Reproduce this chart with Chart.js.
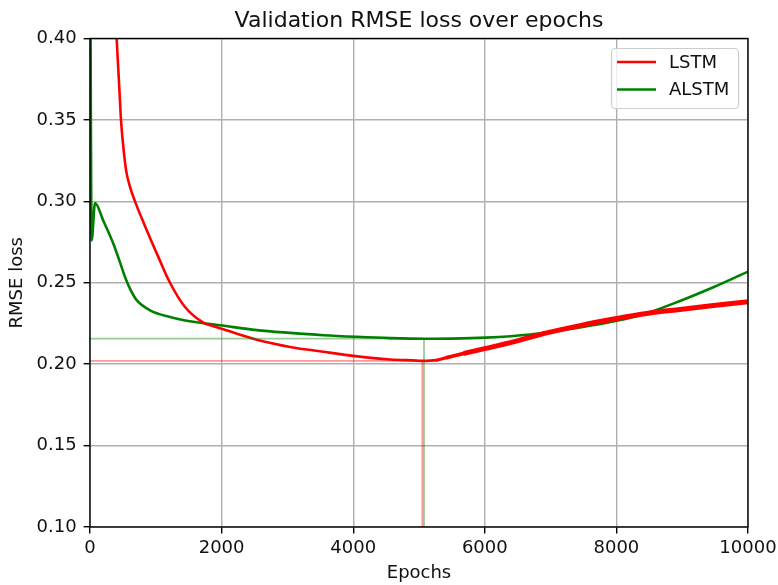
<!DOCTYPE html>
<html>
<head>
<meta charset="utf-8">
<script src="https://cdn.jsdelivr.net/npm/chart.js@4/dist/chart.umd.min.js"></script>
<style>
  html, body { margin: 0; padding: 0; background: #fff; }
  #wrap { width: 778px; height: 585px; }
</style>
</head>
<body>
<div id="wrap"><canvas id="lossChart" width="778" height="585"></canvas></div>
<script>
const TITLE = 'Validation RMSE loss over epochs';
const X_LABEL = 'Epochs';
const Y_LABEL = 'RMSE loss';

const xTicks = [0, 2000, 4000, 6000, 8000, 10000];
const yTicks = [0.10, 0.15, 0.20, 0.25, 0.30, 0.35, 0.40];

// LSTM validation loss
const lstmEpochs = [0, 200, 330, 405, 430, 450, 471, 500, 547, 600, 684, 821, 1038, 1216, 1444,
  1722, 1874, 2026, 2533, 3040, 3546, 4002, 4559, 4965, 5050, 5269, 5420, 5700, 6014, 6434,
  6940, 7447, 8004, 8460, 8967, 9473, 10000];
const lstmLoss = [1.2, 0.62, 0.46, 0.400, 0.381, 0.366, 0.350, 0.336, 0.3195, 0.310, 0.300,
  0.2863, 0.2659, 0.2500, 0.2351, 0.2255, 0.2233, 0.2214, 0.2150, 0.2106, 0.2076, 0.2051,
  0.2029, 0.2022, 0.2020, 0.2025, 0.2040, 0.2068, 0.2097, 0.2137, 0.2192, 0.2237, 0.2280,
  0.2311, 0.2336, 0.2360, 0.2384];

// ALSTM validation loss
const alstmEpochs = [0, 25, 76, 203, 355, 456, 547, 630, 709, 912, 1216, 1570, 1976, 2533, 3040,
  3546, 4052, 4559, 5065, 5500, 6014, 6687, 7447, 8004, 8460, 8967, 9473, 10000];
const alstmLoss = [0.50, 0.276, 0.299, 0.2880, 0.2740, 0.2625, 0.2520, 0.2445, 0.2393, 0.2331,
  0.2290, 0.2260, 0.2239, 0.2209, 0.2192, 0.2178, 0.2168, 0.2160, 0.2156, 0.2157, 0.2163,
  0.2182, 0.2225, 0.2266, 0.2313, 0.2388, 0.2472, 0.2568];

// best epoch markers
const lstmBestEpoch = 5050;
const lstmBestLoss = 0.2020;
const alstmBestEpoch = 5076;
const alstmBestLoss = 0.2157;

// LSTM gets jittery after ~5200 epochs, drawn as a thicker band
const LSTM_NOISY_FROM = 5150;
const LSTM_NOISY_FULL = 5700;

const RED = '#ff0000';
const GREEN = '#008000';
const FONT = 'DejaVu Sans';
const LW = 2.6;
const NOISY_LW = 5;

const toPoints = (xs, ys) => xs.map((x, i) => ({ x, y: ys[i] }));
const yMin = yTicks[0];

function noisyWidth(ctx) {
  const x = ctx.p0.parsed.x;
  if (x < LSTM_NOISY_FROM) return LW;
  const k = Math.min(1, (x - LSTM_NOISY_FROM) / (LSTM_NOISY_FULL - LSTM_NOISY_FROM));
  return LW + k * (NOISY_LW - LW);
}

const datasets = [
  {
    label: 'LSTM min h',
    data: [{ x: 0, y: lstmBestLoss }, { x: lstmBestEpoch, y: lstmBestLoss }],
    borderColor: 'rgba(255,0,0,0.4)', borderWidth: 1.8, legend: false,
  },
  {
    label: 'LSTM min v',
    data: [{ x: lstmBestEpoch, y: yMin }, { x: lstmBestEpoch, y: lstmBestLoss }],
    borderColor: 'rgba(255,0,0,0.4)', borderWidth: 1.8, legend: false,
  },
  {
    label: 'ALSTM min h',
    data: [{ x: 0, y: alstmBestLoss }, { x: alstmBestEpoch, y: alstmBestLoss }],
    borderColor: 'rgba(0,128,0,0.4)', borderWidth: 1.8, legend: false,
  },
  {
    label: 'ALSTM min v',
    data: [{ x: alstmBestEpoch, y: yMin }, { x: alstmBestEpoch, y: alstmBestLoss }],
    borderColor: 'rgba(0,128,0,0.4)', borderWidth: 1.8, legend: false,
  },
  {
    label: 'LSTM',
    data: toPoints(lstmEpochs, lstmLoss),
    borderColor: RED, borderWidth: LW, legend: true,
    cubicInterpolationMode: 'monotone',
    borderCapStyle: 'round',
    segment: { borderWidth: noisyWidth },
  },
  {
    label: 'ALSTM',
    data: toPoints(alstmEpochs, alstmLoss),
    borderColor: GREEN, borderWidth: LW, legend: true,
    cubicInterpolationMode: 'monotone',
  },
];
datasets.forEach((d) => { d.pointRadius = 0; d.fill = false; d.clip = 0; });

// --- title, frame and legend drawn matplotlib-style ---
const decorPlugin = {
  id: 'decor',
  afterDatasetsDraw(chart) {
    const { ctx, chartArea: a } = chart;
    ctx.save();
    ctx.strokeStyle = '#000';
    ctx.lineWidth = 1.4;
    ctx.strokeRect(a.left, a.top, a.right - a.left, a.bottom - a.top);
    ctx.restore();
  },
  afterDraw(chart) {
    const { ctx, chartArea: a } = chart;
    ctx.save();
    ctx.fillStyle = '#111';
    ctx.font = `22px "${FONT}"`;
    ctx.textAlign = 'center';
    ctx.textBaseline = 'alphabetic';
    ctx.fillText(TITLE, (a.left + a.right) / 2, 26.5);

    // legend box
    const bx = 611.5, by = 48.5, bw = 127, bh = 60, r = 4;
    ctx.beginPath();
    ctx.roundRect(bx, by, bw, bh, r);
    ctx.fillStyle = 'rgba(255,255,255,0.8)';
    ctx.fill();
    ctx.strokeStyle = '#cccccc';
    ctx.lineWidth = 1.2;
    ctx.stroke();

    const items = chart.data.datasets.filter((d) => d.legend);
    ctx.font = `18px "${FONT}"`;
    ctx.textAlign = 'left';
    ctx.textBaseline = 'middle';
    items.forEach((d, i) => {
      const y = 62 + i * 27.5;
      ctx.strokeStyle = d.borderColor;
      ctx.lineWidth = LW;
      ctx.beginPath();
      ctx.moveTo(617, y);
      ctx.lineTo(656, y);
      ctx.stroke();
      ctx.fillStyle = '#111';
      ctx.fillText(d.label, 669, y + 1);
    });
    ctx.restore();
  },
};

const tickFont = { family: FONT, size: 18 };

new Chart(document.getElementById('lossChart'), {
  type: 'line',
  data: { datasets },
  options: {
    responsive: false,
    animation: false,
    layout: { padding: { top: 38.5, right: 30, bottom: 0, left: 0 } },
    plugins: {
      legend: { display: false },
      tooltip: { enabled: false },
      title: { display: false },
    },
    scales: {
      x: {
        type: 'linear',
        min: xTicks[0],
        max: xTicks[xTicks.length - 1],
        afterBuildTicks: (s) => { s.ticks = xTicks.map((v) => ({ value: v })); },
        afterFit: (s) => { s.height = 58; s.paddingLeft = 0; s.paddingRight = 0; },
        ticks: {
          font: tickFont, color: '#111', padding: 4, maxRotation: 0,
          callback: (v) => String(v),
        },
        grid: { color: '#b0b0b0', lineWidth: 1.4, tickLength: 6.4, tickColor: '#000', tickWidth: 1.4 },
        border: { display: false },
        title: {
          display: true, text: X_LABEL, color: '#111',
          font: { family: FONT, size: 18 }, padding: { top: 0, bottom: 1 },
        },
      },
      y: {
        type: 'linear',
        min: yTicks[0],
        max: yTicks[yTicks.length - 1],
        afterBuildTicks: (s) => { s.ticks = yTicks.map((v) => ({ value: v })); },
        afterFit: (s) => { s.width = 90; s.paddingTop = 0; s.paddingBottom = 0; },
        ticks: {
          font: tickFont, color: '#111', padding: 7,
          callback: (v) => v.toFixed(2),
        },
        grid: { color: '#b0b0b0', lineWidth: 1.4, tickLength: 6.4, tickColor: '#000', tickWidth: 1.4 },
        border: { display: false },
        title: {
          display: true, text: Y_LABEL, color: '#111',
          font: { family: FONT, size: 18 }, padding: { top: 7, bottom: 0 },
        },
      },
    },
  },
  plugins: [decorPlugin],
});
</script>
</body>
</html>
